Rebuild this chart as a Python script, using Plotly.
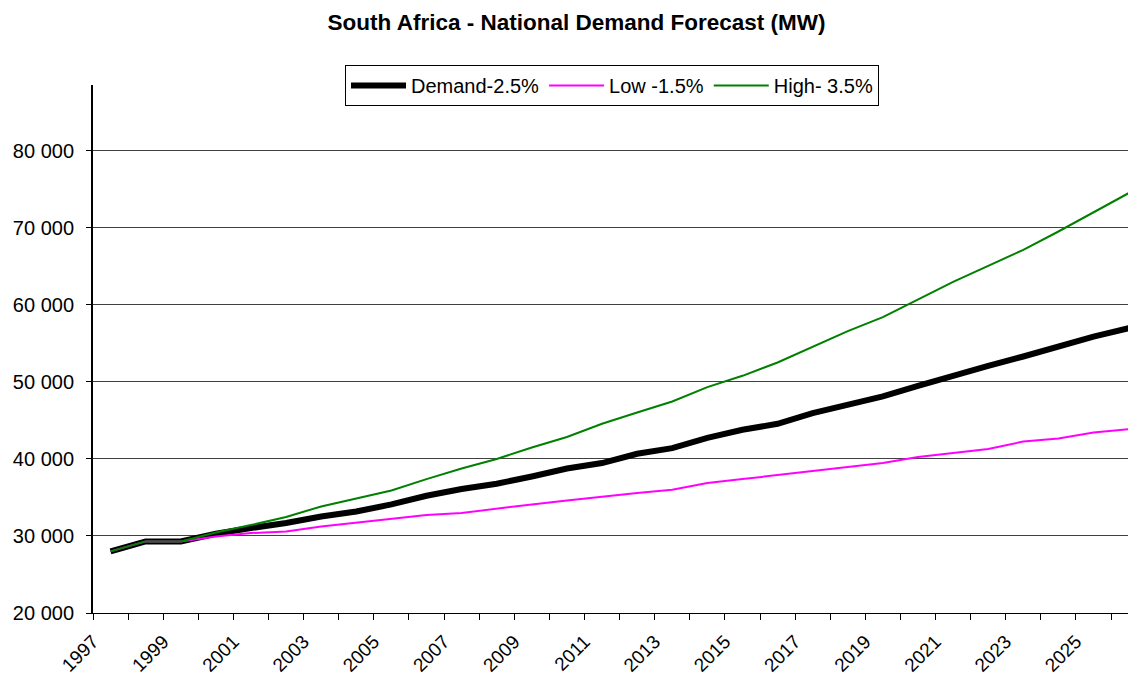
import plotly.graph_objects as go

years = list(range(1997, 2027))
demand = [28000, 29300, 29300, 30290, 31030, 31680, 32540, 33190, 34100, 35230,
          36100, 36780, 37730, 38770, 39470, 40680, 41410, 42750, 43790, 44570,
          45960, 47000, 48120, 49500, 50890, 52100, 53310, 54700, 55900, 56990]
low = [28000, 29300, 29300, 29940, 30380, 30590, 31240, 31760, 32200, 32720,
       32980, 33580, 34100, 34620, 35140, 35580, 36000, 36870, 37390, 37910,
       38380, 38860, 39470, 40250, 40770, 41290, 42270, 42660, 43440, 43880]
high = [28000, 29300, 29300, 30460, 31420, 32460, 33840, 34840, 35920, 37390,
        38770, 40000, 41500, 42850, 44570, 46040, 47460, 49330, 50800, 52530,
        54530, 56600, 58420, 60760, 63000, 65080, 67160, 69540, 72000, 74520]

# category boundaries carry the tick marks; every other one carries a year label
boundaries = [y - 0.5 for y in years] + [years[-1] + 0.5]
boundary_text = [str(y) if (y - years[0]) % 2 == 0 else "" for y in years] + [""]
y_ticks = [20000, 30000, 40000, 50000, 60000, 70000, 80000]

FONT = "Liberation Sans, Arial, sans-serif"

fig = go.Figure()
fig.add_trace(go.Scatter(x=years, y=demand, mode="lines", name="Demand-2.5%",
                         line=dict(color="black", width=6)))
fig.add_trace(go.Scatter(x=years, y=low, mode="lines", name="Low -1.5%",
                         line=dict(color="#FF00FF", width=2)))
fig.add_trace(go.Scatter(x=years, y=high, mode="lines", name="High- 3.5%",
                         line=dict(color="#008000", width=2)))

W, H = 1128, 673  # page body adds an 8px offset
fig.update_layout(
    width=W, height=H,
    margin=dict(l=85, r=0, t=77, b=68),
    paper_bgcolor="white", plot_bgcolor="white",
    font=dict(family=FONT, size=20, color="black"),
    separators=". ",
    title=dict(text="<b>South Africa - National Demand Forecast (MW)</b>",
               x=568.5 / W, xanchor="center", y=1 - 14 / H, yanchor="middle",
               yref="container", font=dict(size=22.5, family=FONT, color="black")),
    showlegend=True,
    legend=dict(orientation="h", x=(345 - 93) / 1043, xanchor="left",
                y=1 + 20 / 528, yanchor="top", itemwidth=55,
                bordercolor="black", borderwidth=1, bgcolor="white",
                font=dict(size=20, family=FONT, color="black")),
    xaxis=dict(range=[1996.5, 2026.21], tickmode="array", tickvals=boundaries,
               ticktext=boundary_text, tickangle=-45, ticks="outside", ticklen=6,
               tickcolor="black", ticklabelstandoff=3, showgrid=False,
               showline=True, linecolor="black", linewidth=1, zeroline=False,
               automargin=False,
               tickfont=dict(size=19, family=FONT, color="black")),
    yaxis=dict(range=[20000, 88566], tickmode="array", tickvals=y_ticks,
               tickformat=",d", ticks="outside", ticklen=5, tickcolor="black",
               showline=True, linecolor="black", linewidth=2,
               showgrid=True, gridcolor="#404040", gridwidth=1, zeroline=False,
               ticklabelstandoff=8, automargin=False,
               tickfont=dict(size=20, family=FONT, color="black")),
)

fig.write_html("out.html")
